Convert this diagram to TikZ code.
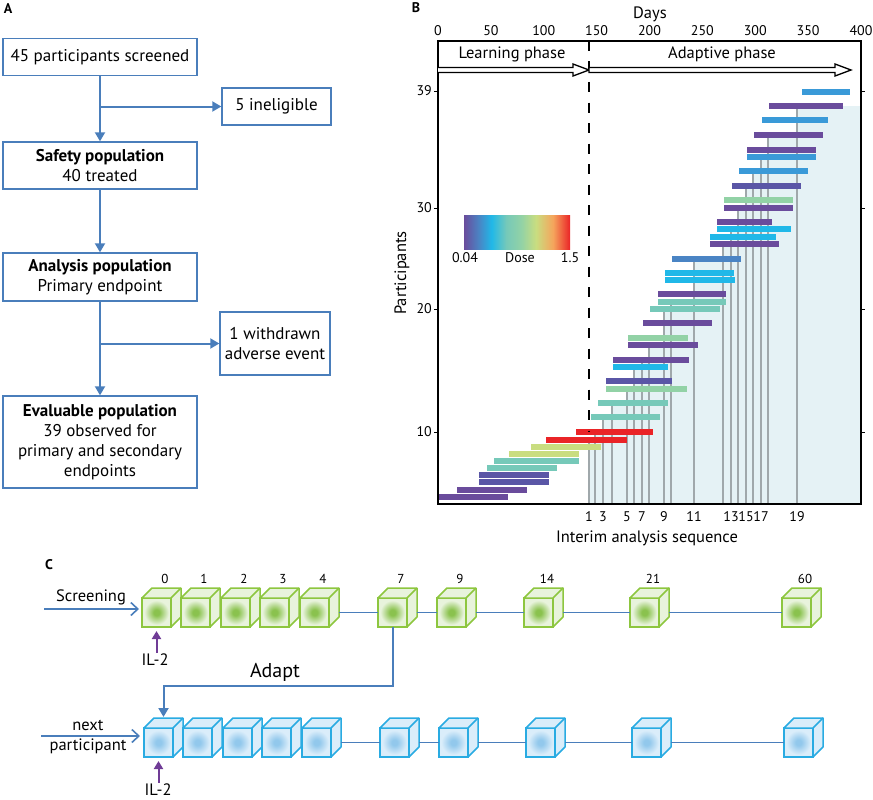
\documentclass[tikz,border=0pt]{standalone}
\usepackage{fontspec}
\setmainfont{PT Sans}
\usetikzlibrary{arrows.meta,positioning,calc}

\definecolor{flowblue}{RGB}{74,126,187}
\definecolor{dosepurple}{RGB}{106,76,156}
\definecolor{doseindigo}{RGB}{90,86,166}
\definecolor{dosesteel}{RGB}{74,132,196}
\definecolor{doseblue}{RGB}{58,154,216}
\definecolor{dosecyan}{RGB}{32,184,232}
\definecolor{doseteal}{RGB}{118,201,185}
\definecolor{dosegreen}{RGB}{146,210,166}
\definecolor{doseyellow}{RGB}{201,221,128}
\definecolor{doseorange}{RGB}{245,165,92}
\definecolor{dosered}{RGB}{234,36,39}
\definecolor{interimgray}{RGB}{160,168,171}
\definecolor{adaptshade}{RGB}{229,242,245}
\definecolor{cubegreen}{RGB}{141,198,63}
\definecolor{cubegreenmid}{RGB}{138,194,78}
\definecolor{cubegreenpale}{RGB}{232,243,220}
\definecolor{cubeblue}{RGB}{41,171,226}
\definecolor{cubebluemid}{RGB}{146,200,236}
\definecolor{cubebluepale}{RGB}{218,237,250}
\definecolor{ilpurple}{RGB}{112,60,150}

\pgfdeclarehorizontalshading{dosemap}{100bp}{color(0bp)=(dosepurple); color(25bp)=(dosepurple);
  color(32bp)=(dosesteel); color(38bp)=(dosecyan); color(45bp)=(doseteal); color(52bp)=(dosegreen);
  color(59bp)=(doseyellow); color(67bp)=(doseorange); color(75bp)=(dosered); color(100bp)=(dosered)}
\pgfdeclareradialshading{greenface}{\pgfpoint{0bp}{0bp}}{color(0bp)=(cubegreenmid); color(5bp)=(cubegreenmid); color(21bp)=(cubegreenpale); color(50bp)=(cubegreenpale)}
\pgfdeclareradialshading{blueface}{\pgfpoint{0bp}{0bp}}{color(0bp)=(cubebluemid); color(5bp)=(cubebluemid); color(21bp)=(cubebluepale); color(50bp)=(cubebluepale)}

\tikzset{
  flowbox/.style={draw=flowblue, line width=1.4pt, minimum width=194pt, align=center, font=\fontsize{17}{20}\selectfont},
  flowline/.style={flowblue, line width=2pt, -{Triangle[width=10pt,length=9pt]}},
  openline/.style={flowblue, line width=1.6pt, -{Straight Barb[width=13pt,length=7pt]}},
  ilarrow/.style={ilpurple, line width=2pt, -{Triangle[width=9pt,length=8pt]}, shorten >=4pt},
  smalltxt/.style={font=\fontsize{14}{16}\selectfont},
  panel/.style={font=\fontsize{14}{16}\selectfont\bfseries},
  gcube/.style={draw=cubegreen, line width=1.5pt, shading=greenface, minimum size=29pt, inner sep=0pt, outer sep=0pt},
  bcube/.style={draw=cubeblue, line width=1.5pt, shading=blueface, minimum size=29pt, inner sep=0pt, outer sep=0pt}
}

\begin{document}
\begin{tikzpicture}[x=1pt, y=-1pt, font=\fontsize{16.5}{20}\selectfont]
\useasboundingbox (0,0) rectangle (873,800);

% A: participant flow
\node[panel] (lblA) at (8,9) {A};
\node[flowbox, minimum height=37pt] (screened) at (100,57) {45 participants screened};
\node[flowbox, minimum width=109pt, minimum height=37pt] (inelig) at (276.5,106.5) {5 ineligible};
\node[flowbox, minimum height=47pt] (safety) at (100,165.5) {\textbf{Safety population}\\40 treated};
\node[flowbox, minimum height=48pt] (analysis) at (100,277) {\textbf{Analysis population}\\Primary endpoint};
\node[flowbox, minimum width=110pt, minimum height=63pt] (withdrawn) at (275,343.5) {1 withdrawn\\adverse event};
\node[flowbox, minimum height=92pt] (evaluable) at (100,442)
  {\textbf{Evaluable population}\\39 observed for\\primary and secondary\\endpoints};
\draw[flowline] (screened) -- (safety);
\draw[flowline] (screened.south |- inelig) -- (inelig);
\draw[flowline] (safety) -- (analysis);
\draw[flowline] (analysis) -- (evaluable);
\draw[flowline] (analysis.south |- withdrawn) -- (withdrawn);

% B: dosing timeline
\node[panel] (lblB) at (416,8) {B};
\node (days) at (650,14) {Days};
\foreach \d in {0,50,...,400}
  \node[smalltxt] (day\d) at (438+\d*1.0575,31) {\d};
\foreach \xx/\tt in {589/442,595/435,603/420,612/406,627/392,634/370,642/363,649/348,664/312,671/305,
    694/262,723/247,731/232,738/211,746/189,753/174,761/160,768/138,797/106}
  \fill[adaptshade] (\xx,\tt) rectangle (861,504);
\foreach \xx/\tt in {589/442,595/435,603/420,612/406,627/392,634/370,642/363,649/348,664/312,671/305,
    694/262,723/247,731/232,738/211,746/189,753/174,761/160,768/138,797/109}
  \draw[interimgray, line width=1.3pt] (\xx,\tt) -- (\xx,504);
\foreach \yy/\xa/\xb/\col in {92/802/850/doseblue, 106/769/843/dosepurple, 120/762/828/doseblue,
    135/754/823/dosepurple, 150/747/816/dosepurple, 157/747/816/doseblue, 171/739/808/doseblue,
    186/732/801/doseindigo, 200/724/793/dosegreen, 208/724/793/dosepurple, 222/717/772/dosepurple,
    229/717/791/dosecyan, 237/710/776/dosecyan, 244/710/779/dosepurple, 259/672/741/dosesteel,
    273/665/734/dosecyan, 280/665/735/dosecyan, 294/658/726/dosepurple, 302/658/726/doseteal,
    309/650/720/doseteal, 323/643/712/dosepurple, 338/628/688/dosegreen, 345/628/698/dosepurple,
    360/613/689/dosepurple, 367/613/668/dosecyan, 381/606/672/doseindigo, 389/606/687/dosegreen,
    403/598/668/doseteal, 417/591/660/doseteal, 432/576/653/dosered, 440/546/627/dosered,
    447/531/601/doseyellow, 454/509/579/doseyellow, 461/494/579/doseteal, 468/487/557/doseteal,
    475/479/549/doseindigo, 482/479/549/doseindigo, 490/457/527/dosepurple, 497/438/508/dosepurple}
  \fill[\col] (\xa,\yy-3.1) rectangle (\xb,\yy+3.1);
\draw[line width=2.6pt, dash pattern=on 10pt off 10.5pt] (589,41) -- (589,432);
\draw[line width=1.5pt] (438,41) rectangle (861,504);
\foreach \n/\yy in {39/91,30/208,20/309,10/432} {
  \draw[line width=0.8pt] (434,\yy) -- (438,\yy);
  \draw[line width=0.8pt] (861,\yy) -- (865,\yy);
  \node[smalltxt, left, inner sep=1pt] (part\n) at (433,\yy) {\n};
}
\draw[line width=1.3pt, fill=white] (438,67.5) -- (573,67.5) -- (573,64) -- (589,70) -- (573,76) -- (573,72.5) -- (438,72.5);
\draw[line width=1.3pt, fill=white] (589,67.5) -- (835,67.5) -- (835,64) -- (851,70) -- (835,76) -- (835,72.5) -- (589,72.5) -- cycle;
\node (learn) at (512,54) {Learning phase};
\node (adapt) at (722,54) {Adaptive phase};
\fill[shading=dosemap] (464,215) rectangle (570,249);
\node[smalltxt] (dmin) at (465,258) {0.04};
\node[smalltxt] (dlbl) at (520,258) {Dose};
\node[smalltxt] (dmax) at (570,258) {1.5};
\node[rotate=90] (ylbl) at (402,273) {Participants};
\foreach \k/\xx in {1/589,3/603,5/627,7/642,9/664,11/694,13/731,15/746,17/761,19/797}
  \node[smalltxt] (seq\k) at (\xx,517) {\k};
\node (xlbl) at (647,538) {Interim analysis sequence};

% C: visit schedule
\node[panel] (lblC) at (49,565) {C};
\foreach \d/\xx in {0/142,1/181,2/221,3/260,4/300,7/378,9/437,14/524,21/630,60/782} {
  \node[gcube] (g\d) at (\xx+14.5,612.5) {};
  \draw[cubegreen, line width=1.5pt, line join=round, fill=cubegreenpale] (g\d.north west) -- ++(10,-10) -- ++(29,0)
    -- ++(0,29) -- (g\d.south east) -- (g\d.north east) -- cycle;
  \draw[cubegreen, line width=1.5pt] (g\d.north east) -- ++(10,-10);
  \node[font=\fontsize{13}{15}\selectfont] (day\d) at (\xx+23,579) {\d};
  \node[bcube] (b\d) at (\xx+16.5,742.5) {};
  \draw[cubeblue, line width=1.5pt, line join=round, fill=cubebluepale] (b\d.north west) -- ++(10,-10) -- ++(29,0)
    -- ++(0,29) -- (b\d.south east) -- (b\d.north east) -- cycle;
  \draw[cubeblue, line width=1.5pt] (b\d.north east) -- ++(10,-10);
}
\foreach \a/\b in {4/7,7/9,9/14,14/21,21/60} {
  \draw[flowblue, line width=1.5pt] ([xshift=10pt]g\a.east) -- (g\b.west);
  \draw[flowblue, line width=1.5pt] ([xshift=10pt]b\a.east) -- (b\b.west);
}
\coordinate (scrstart) at (44,609);
\draw[openline, shorten >=3pt] (scrstart) -- (scrstart -| g0.west);
\node (scrlbl) at (91,597) {Screening};
\coordinate (nxtstart) at (41,736);
\draw[openline, shorten >=4pt] (nxtstart) -- (nxtstart -| b0.west);
\node[align=center] (nxtlbl) at (88,737) {next\\participant};
\node[inner sep=1pt] (il0) at (155,660) {IL-2};
\node[inner sep=1pt] (il1) at (158,790) {IL-2};
\draw[ilarrow] (g0.south |- il0.north) -- (g0.south);
\draw[ilarrow] (b0.south |- il1.north) -- (b0.south);
\draw[flowline, shorten >=1pt] (g7.south) -- ++(0,59) -| ([shift={(5,-10)}]b0.north);
\node[font=\fontsize{20}{24}\selectfont] (adaptlbl) at (275,672) {Adapt};
\end{tikzpicture}
\end{document}
